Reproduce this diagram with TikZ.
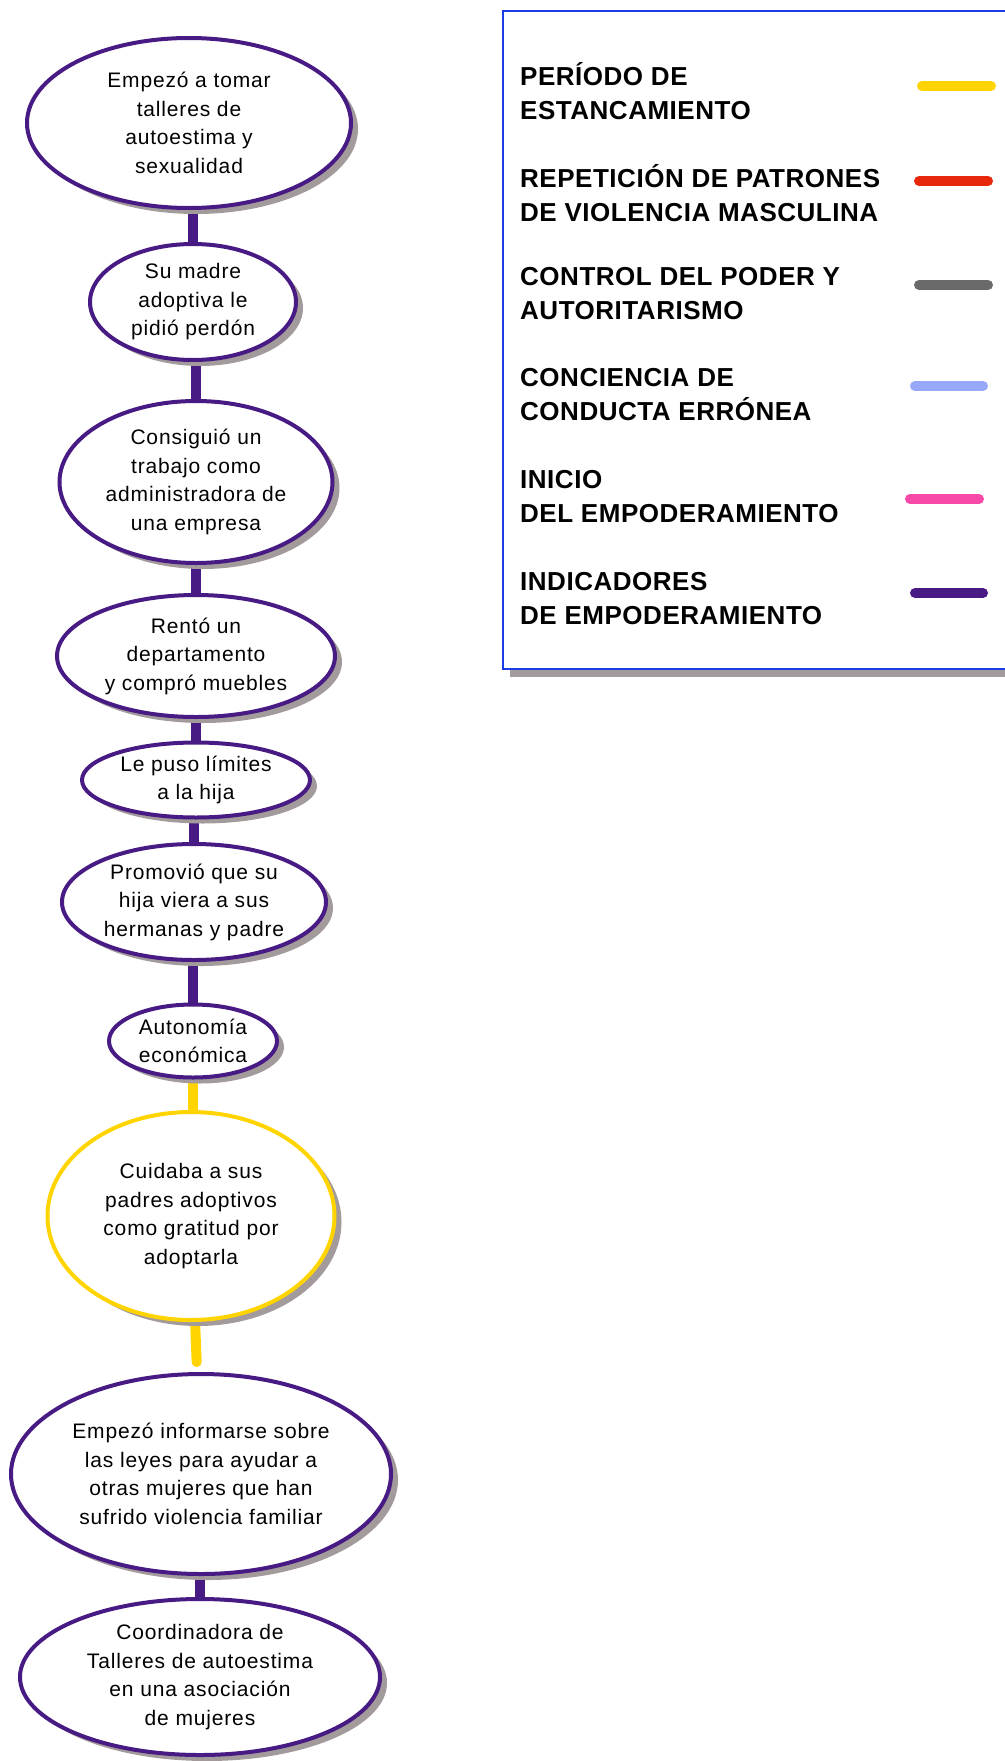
\documentclass[tikz,border=0pt]{standalone}
\usepackage{fontspec}
\setmainfont{Liberation Sans}
\newfontfamily\evfont[LetterSpace=4]{Liberation Sans}
\newfontfamily\legfont[LetterSpace=2]{Liberation Sans}
\usetikzlibrary{shapes.geometric,shadows,backgrounds}
\definecolor{indic}{HTML}{481A84}
\definecolor{stall}{HTML}{FFD400}
\definecolor{violence}{HTML}{E8280C}
\definecolor{control}{HTML}{6A6A6A}
\definecolor{aware}{HTML}{98A8F8}
\definecolor{start}{HTML}{F848A8}
\definecolor{shadowgray}{HTML}{A39B9B}
\definecolor{legblue}{HTML}{1C3CE6}
\tikzset{
  event/.style={ellipse, draw=indic, line width=4pt, fill=white, inner sep=0pt,
    align=center, font=\evfont\fontsize{21}{28.5}\selectfont,
    drop shadow={shadow xshift=7pt, shadow yshift=-6pt, fill=shadowgray, opacity=1}},
  stallev/.style={event, draw=stall},
  link/.style={draw=indic, line width=10pt},
  stalllink/.style={draw=stall, line width=10pt, line cap=round},
  legbox/.style={draw=legblue, line width=1.6pt, fill=white},
  legtxt/.style={anchor=west, align=left, inner sep=0pt,
    font=\legfont\bfseries\fontsize{26}{34}\selectfont},
  legline/.style={line width=10pt, line cap=round}
}

\begin{document}
\begin{tikzpicture}[x=1pt, y=-1pt]
  \useasboundingbox (0,0) rectangle (1004,1761);

  % chain of events
  \node[event, minimum width=324pt, minimum height=170pt] (e1) at (189,123)
    {Empezó a tomar\\talleres de\\autoestima y\\sexualidad};
  \node[event, minimum width=206pt, minimum height=116pt] (e2) at (193,302)
    {Su madre\\adoptiva le\\pidió perdón};
  \node[event, minimum width=273pt, minimum height=162pt] (e3) at (196,482)
    {Consiguió un\\trabajo como\\administradora de\\una empresa};
  \node[event, minimum width=278pt, minimum height=122pt] (e4) at (196,656)
    {Rentó un\\departamento\\y compró muebles};
  \node[event, minimum width=228pt, minimum height=75pt] (e5) at (196,780)
    {Le puso límites\\a la hija};
  \node[event, minimum width=264pt, minimum height=116pt] (e6) at (194,902)
    {Promovió que su\\hija viera a sus\\hermanas y padre};
  \node[event, minimum width=168pt, minimum height=73pt] (e7) at (193,1041)
    {Autonomía\\económica};
  \node[stallev, minimum width=287pt, minimum height=208pt] (e8) at (191,1216)
    {Cuidaba a sus\\padres adoptivos\\como gratitud por\\adoptarla};
  \node[event, minimum width=380pt, minimum height=200pt] (e9) at (201,1474)
    {Empezó informarse sobre\\las leyes para ayudar a\\otras mujeres que han\\sufrido violencia familiar};
  \node[event, minimum width=360pt, minimum height=156pt] (e10) at (200,1677)
    {Coordinadora de\\Talleres de autoestima\\en una asociación\\de mujeres};

  \begin{scope}[on background layer]
    \draw[link] (e1 -| e2) -- (e2);
    \draw[link] (e2 -| e3) -- (e3);
    \draw[link] (e3) -- (e4);
    \draw[link] (e4) -- (e5);
    \draw[link] (e5 -| e6) -- (e6);
    \draw[link] (e6 -| e7) -- (e7);
    \draw[stalllink] (e7) -- (e8 -| e7);
    \draw[stalllink, shorten >=10pt] (e8) -- (e9);
    \draw[link] (e9 -| e10) -- (e10);
  \end{scope}

  % legend
  \fill[shadowgray] (510,19) rectangle (1030,677);
  \draw[legbox] (503,11) rectangle (1030,669);

  \node[legtxt] (l1) at (520,91) {PERÍODO DE\\ESTANCAMIENTO};
  \node[legtxt] (l2) at (520,193) {REPETICIÓN DE PATRONES\\DE VIOLENCIA MASCULINA};
  \node[legtxt] (l3) at (520,294) {CONTROL DEL PODER Y\\AUTORITARISMO};
  \node[legtxt] (l4) at (520,395) {CONCIENCIA DE\\CONDUCTA ERRÓNEA};
  \node[legtxt] (l5) at (520,497) {INICIO\\DEL EMPODERAMIENTO};
  \node[legtxt] (l6) at (520,599) {INDICADORES\\DE EMPODERAMIENTO};

  \draw[legline, stall] (922,86) -- (991,86);
  \draw[legline, violence] (919,181) -- (988,181);
  \draw[legline, control] (919,285) -- (988,285);
  \draw[legline, aware] (915,386) -- (983,386);
  \draw[legline, start] (910,499) -- (979,499);
  \draw[legline, indic] (915,593) -- (983,593);
\end{tikzpicture}
\end{document}
